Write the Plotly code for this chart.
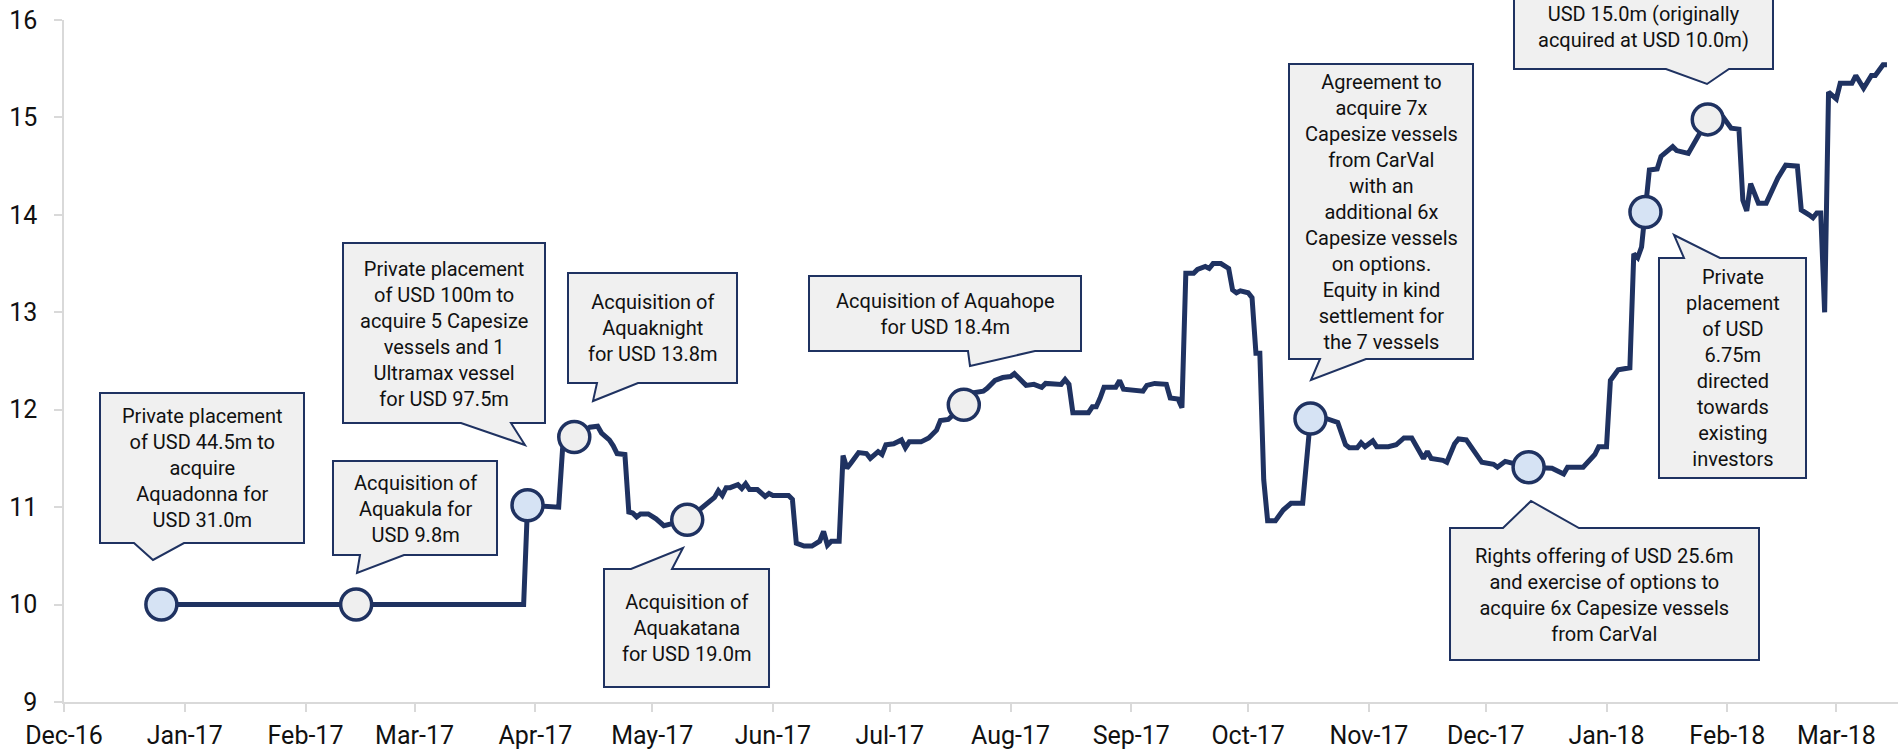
import plotly.graph_objects as go

# share price (NOK), daily-ish points
price_dates = [
    "2016-12-26", "2017-02-14", "2017-03-29", "2017-03-30", "2017-04-07", "2017-04-08", "2017-04-11",
    "2017-04-15", "2017-04-17", "2017-04-18", "2017-04-20", "2017-04-21", "2017-04-22", "2017-04-24",
    "2017-04-25", "2017-04-26", "2017-04-27", "2017-04-28", "2017-04-30", "2017-05-02", "2017-05-04",
    "2017-05-10", "2017-05-17", "2017-05-18", "2017-05-19", "2017-05-20", "2017-05-21", "2017-05-23",
    "2017-05-24", "2017-05-25", "2017-05-26", "2017-05-28", "2017-05-30", "2017-05-31", "2017-06-01",
    "2017-06-05", "2017-06-06", "2017-06-07", "2017-06-09", "2017-06-11", "2017-06-13", "2017-06-14",
    "2017-06-15", "2017-06-16", "2017-06-18", "2017-06-19", "2017-06-20", "2017-06-21", "2017-06-23",
    "2017-06-25", "2017-06-26", "2017-06-28", "2017-06-29", "2017-06-30", "2017-07-02", "2017-07-04",
    "2017-07-05", "2017-07-06", "2017-07-09", "2017-07-11", "2017-07-13", "2017-07-14", "2017-07-16",
    "2017-07-20", "2017-07-22", "2017-07-25", "2017-07-26", "2017-07-28", "2017-07-30", "2017-08-01",
    "2017-08-02", "2017-08-03", "2017-08-05", "2017-08-07", "2017-08-09", "2017-08-10", "2017-08-14",
    "2017-08-15", "2017-08-16", "2017-08-17", "2017-08-21", "2017-08-22", "2017-08-23", "2017-08-24",
    "2017-08-25", "2017-08-28", "2017-08-29", "2017-08-30", "2017-09-04", "2017-09-05", "2017-09-07",
    "2017-09-10", "2017-09-11", "2017-09-13", "2017-09-14", "2017-09-15", "2017-09-17", "2017-09-18",
    "2017-09-19", "2017-09-20", "2017-09-21", "2017-09-22", "2017-09-24", "2017-09-26", "2017-09-27",
    "2017-09-28", "2017-09-29", "2017-10-01", "2017-10-02", "2017-10-03", "2017-10-04", "2017-10-05",
    "2017-10-06", "2017-10-08", "2017-10-10", "2017-10-12", "2017-10-15", "2017-10-17", "2017-10-21",
    "2017-10-24", "2017-10-26", "2017-10-27", "2017-10-29", "2017-10-30", "2017-10-31", "2017-11-02",
    "2017-11-03", "2017-11-06", "2017-11-08", "2017-11-10", "2017-11-12", "2017-11-15", "2017-11-16",
    "2017-11-17", "2017-11-20", "2017-11-21", "2017-11-23", "2017-11-24", "2017-11-26", "2017-11-28",
    "2017-11-30", "2017-12-03", "2017-12-04", "2017-12-06", "2017-12-12", "2017-12-18", "2017-12-21",
    "2017-12-22", "2017-12-26", "2017-12-29", "2017-12-30", "2018-01-01", "2018-01-02", "2018-01-04",
    "2018-01-07", "2018-01-08", "2018-01-09", "2018-01-10", "2018-01-11", "2018-01-12", "2018-01-14",
    "2018-01-15", "2018-01-18", "2018-01-19", "2018-01-22", "2018-01-24", "2018-01-27", "2018-01-31",
    "2018-02-02", "2018-02-04", "2018-02-05", "2018-02-06", "2018-02-07", "2018-02-09", "2018-02-11",
    "2018-02-14", "2018-02-16", "2018-02-19", "2018-02-20", "2018-02-22", "2018-02-23", "2018-02-24",
    "2018-02-25", "2018-02-26", "2018-02-27", "2018-03-01", "2018-03-02", "2018-03-05", "2018-03-06",
    "2018-03-08", "2018-03-10", "2018-03-11", "2018-03-13", "2018-03-14",
]
price_values = [
    10.00, 10.00, 10.00, 11.02, 11.00, 11.60, 11.72,
    11.82, 11.83, 11.76, 11.69, 11.63, 11.55, 11.54,
    10.95, 10.94, 10.90, 10.93, 10.93, 10.88, 10.81,
    10.87, 11.10, 11.17, 11.12, 11.20, 11.20, 11.23,
    11.19, 11.24, 11.18, 11.18, 11.11, 11.14, 11.12,
    11.12, 11.08, 10.63, 10.60, 10.60, 10.65, 10.75,
    10.61, 10.65, 10.65, 11.53, 11.40, 11.45, 11.56,
    11.55, 11.50, 11.57, 11.54, 11.64, 11.65, 11.69,
    11.61, 11.67, 11.67, 11.71, 11.79, 11.89, 11.90,
    12.05, 12.17, 12.19, 12.22, 12.30, 12.33, 12.34,
    12.37, 12.33, 12.25, 12.26, 12.23, 12.27, 12.26,
    12.31, 12.26, 11.97, 11.97, 12.03, 12.03, 12.12,
    12.23, 12.23, 12.30, 12.21, 12.19, 12.25, 12.27,
    12.26, 12.12, 12.11, 12.02, 13.40, 13.40, 13.44,
    13.46, 13.47, 13.45, 13.50, 13.50, 13.45, 13.23,
    13.20, 13.22, 13.20, 13.15, 12.58, 12.58, 11.28,
    10.86, 10.86, 10.97, 11.04, 11.04, 11.91, 11.91,
    11.87, 11.64, 11.61, 11.61, 11.66, 11.62, 11.68,
    11.62, 11.62, 11.64, 11.71, 11.71, 11.50, 11.57,
    11.50, 11.48, 11.46, 11.65, 11.70, 11.69, 11.57,
    11.46, 11.44, 11.41, 11.47, 11.41, 11.40, 11.34,
    11.41, 11.41, 11.54, 11.62, 11.62, 12.30, 12.41,
    12.43, 13.60, 13.56, 13.67, 14.03, 14.46, 14.47,
    14.60, 14.70, 14.66, 14.63, 14.78, 14.98, 15.00,
    14.89, 14.88, 14.15, 14.04, 14.32, 14.12, 14.12,
    14.38, 14.51, 14.50, 14.05, 14.00, 13.97, 14.02,
    14.02, 13.00, 15.26, 15.19, 15.35, 15.35, 15.43,
    15.30, 15.43, 15.43, 15.54, 15.54,
]

# event markers on the line
event_dates = ["2016-12-26", "2017-02-14", "2017-03-30", "2017-04-11", "2017-05-10",
               "2017-07-20", "2017-10-17", "2017-12-12", "2018-01-11", "2018-01-27"]
event_values = [10.00, 10.00, 11.02, 11.72, 10.87, 12.05, 11.91, 11.41, 14.03, 14.98]
event_kind = ["placement", "acquisition", "placement", "acquisition", "acquisition",
              "acquisition", "placement", "placement", "placement", "acquisition"]

NAVY = "#1F3261"
kind_fill = {"placement": "#D6E3F4", "acquisition": "#EFEFEF"}

# callout boxes, in pixels of the 1900x751 picture:
# (left, top, right, bottom, tail side, tail base 1, tail base 2, tip x, tip y, text centre y, text)
callouts = [
    (100, 393, 304, 543, "bottom", 134, 184, 153, 560, 468,
     "Private placement<br>of USD 44.5m to<br>acquire<br>Aquadonna for<br>USD 31.0m"),
    (333, 461, 497, 555, "bottom", 360, 404, 357, 573, 509,
     "Acquisition of<br>Aquakula for<br>USD 9.8m"),
    (343, 243, 545, 423, "bottom", 461, 511, 525, 445, 334,
     "Private placement<br>of USD 100m to<br>acquire 5 Capesize<br>vessels and 1<br>Ultramax vessel<br>for USD 97.5m"),
    (568, 273, 737, 383, "bottom", 597, 638, 593, 401, 328,
     "Acquisition of<br>Aquaknight<br>for USD 13.8m"),
    (604, 569, 769, 687, "top", 631, 672, 683, 548, 628,
     "Acquisition of<br>Aquakatana<br>for USD 19.0m"),
    (809, 276, 1081, 351, "bottom", 968, 1035, 970, 366, 314,
     "Acquisition of Aquahope<br>for USD 18.4m"),
    (1289, 64, 1473, 359, "bottom", 1320, 1366, 1311, 380, 212,
     "Agreement to<br>acquire 7x<br>Capesize vessels<br>from CarVal<br>with an<br>additional 6x<br>Capesize vessels<br>on options.<br>Equity in kind<br>settlement for<br>the 7 vessels"),
    (1514, -60, 1773, 69, "bottom", 1666, 1729, 1707, 84, 27,
     "USD 15.0m (originally<br>acquired at USD 10.0m)"),
    (1659, 258, 1806, 478, "top", 1684, 1720, 1674, 235, 368,
     "Private<br>placement<br>of USD<br>6.75m<br>directed<br>towards<br>existing<br>investors"),
    (1450, 528, 1759, 660, "top", 1503, 1579, 1531, 501, 595,
     "Rights offering of USD 25.6m<br>and exercise of options to<br>acquire 6x Capesize vessels<br>from CarVal"),
]

W, H = 1900, 751
ML, MR, MT, MB = 64, 2, 20, 49
PW, PH = W - ML - MR, H - MT - MB


def to_paper(x, y):
    return (x - ML) / PW, (H - MB - y) / PH


def callout_path(c):
    l, t, r, b, side, b1, b2, tx, ty = c[:9]
    if side == "bottom":
        pts = [(l, t), (r, t), (r, b), (b2, b), (tx, ty), (b1, b), (l, b)]
    else:
        pts = [(l, t), (b1, t), (tx, ty), (b2, t), (r, t), (r, b), (l, b)]
    pp = [to_paper(x, y) for x, y in pts]
    return "M " + " L ".join("%.5f,%.5f" % p for p in pp) + " Z"


fig = go.Figure()
fig.add_trace(go.Scatter(x=price_dates, y=price_values, mode="lines",
                         line=dict(color=NAVY, width=5), hoverinfo="x+y"))
fig.add_trace(go.Scatter(x=event_dates, y=event_values, mode="markers",
                         marker=dict(size=31, color=[kind_fill[k] for k in event_kind],
                                     line=dict(color=NAVY, width=3.5)),
                         hoverinfo="x+y"))

for c in callouts:
    fig.add_shape(type="path", xref="paper", yref="paper", path=callout_path(c),
                  fillcolor="#F0F0F0", line=dict(color=NAVY, width=2), layer="above")
    cx, cy = to_paper((c[0] + c[2]) / 2, c[9])
    fig.add_annotation(x=cx, y=cy, xref="paper", yref="paper", text=c[10], showarrow=False,
                       xanchor="center", yanchor="middle", align="center",
                       font=dict(size=20, color="#111111"))

fig.update_xaxes(type="date", range=["2016-12-01", "2018-03-16 20:00"],
                 tick0="2016-12-01", dtick="M1", tickformat="%b-%y",
                 showline=True, linecolor="#D9D9D9", linewidth=1.5,
                 ticks="outside", ticklen=8, tickcolor="#D9D9D9", tickwidth=1.5,
                 showgrid=False, zeroline=False, ticklabelstandoff=2,
                 tickfont=dict(size=25, color="#111111"))
fig.update_yaxes(range=[9, 16], dtick=1,
                 showline=True, linecolor="#D9D9D9", linewidth=1.5,
                 ticks="outside", ticklen=8, tickcolor="#D9D9D9", tickwidth=1.5,
                 showgrid=False, zeroline=False, ticklabelstandoff=12,
                 tickfont=dict(size=25, color="#111111"))

fig.update_layout(width=W, height=H, margin=dict(l=ML, r=MR, t=MT, b=MB),
                  showlegend=False, plot_bgcolor="white", paper_bgcolor="white",
                  font=dict(family="Roboto"))

# drop the browser's default 8px body margin so the figure sits at the page corner
fig.write_html("out.html", config={"displayModeBar": False},
               post_script="document.body.style.margin='0';")
